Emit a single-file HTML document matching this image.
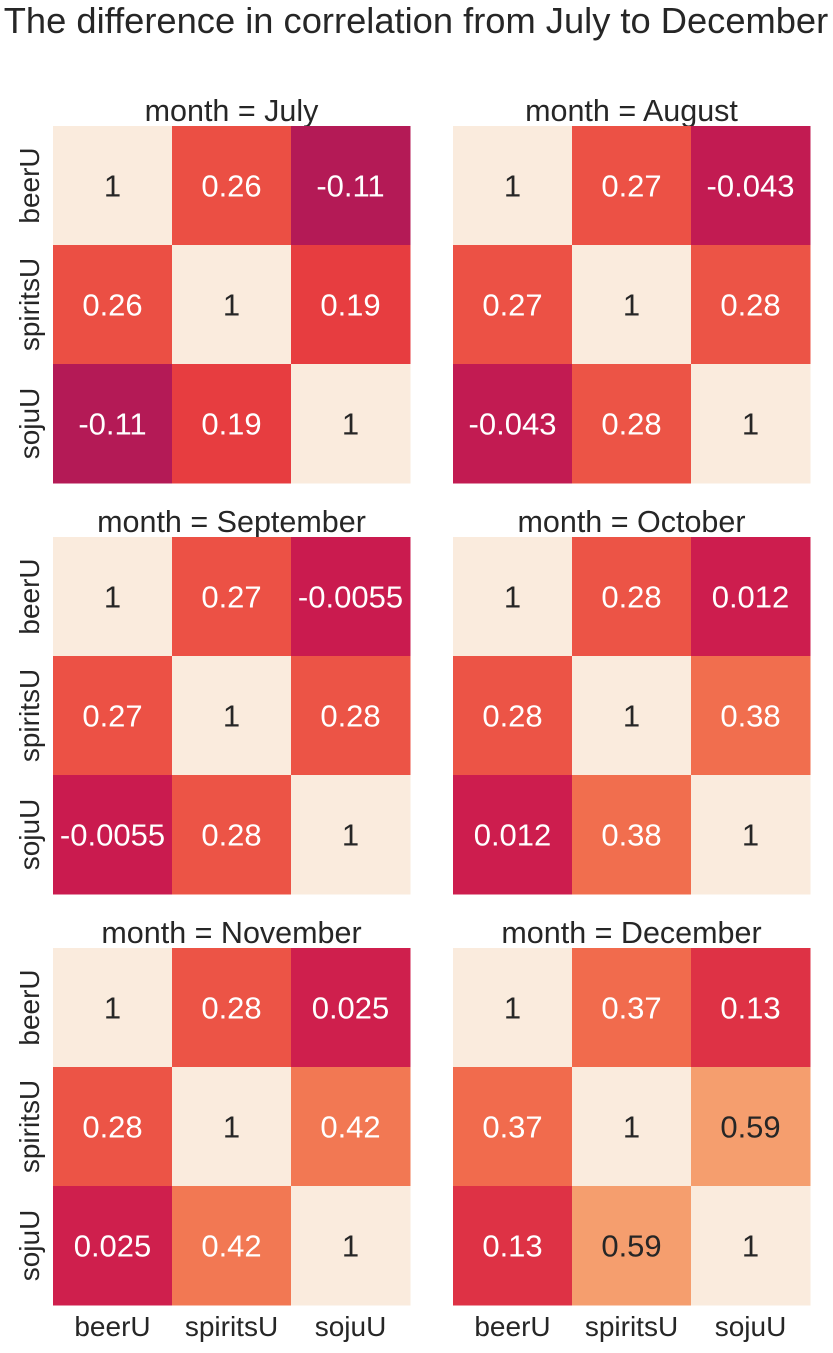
<!DOCTYPE html>
<html><head><meta charset="utf-8"><style>
body{margin:0;background:#fff;font-family:"Liberation Sans",sans-serif;}
</style></head><body>
<svg id="c" width="833" height="1348" xmlns="http://www.w3.org/2000/svg" font-family="Liberation Sans, sans-serif">
<text x="416" y="33" text-anchor="middle" font-size="36.3" fill="#262626">The difference in correlation from July to December</text>
</svg>
<script>
const months=["July","August","September","October","November","December"];
const labels=["beerU","spiritsU","sojuU"];
const v1=[0.26,0.27,0.27,0.28,0.28,0.37];
const v2=[-0.11,-0.043,-0.0055,0.012,0.025,0.13];
const v3=[0.19,0.28,0.28,0.38,0.42,0.59];
const stops=[[0,"#03051a"],[0.1,"#221331"],[0.2,"#451c47"],[0.3,"#6a1f56"],[0.4,"#a11a5b"],[0.5,"#cb1b4f"],[0.6,"#e83f3f"],[0.7,"#f27350"],[0.8,"#f5a070"],[0.9,"#f6c8aa"],[1,"#faebdd"]];
function hex(h){return [1,3,5].map(i=>parseInt(h.substr(i,2),16));}
function cmap(v){let t=(v+1)/2;t=Math.max(0,Math.min(1,t));
for(let i=0;i<stops.length-1;i++){if(t<=stops[i+1][0]){const a=hex(stops[i][1]),b=hex(stops[i+1][1]);const f=(t-stops[i][0])/(stops[i+1][0]-stops[i][0]);return a.map((x,k)=>Math.round(x+(b[k]-x)*f));}}
return hex(stops[stops.length-1][1]);}
const svg=document.getElementById('c');const NS="http://www.w3.org/2000/svg";
function el(t,a){const e=document.createElementNS(NS,t);for(const k in a)e.setAttribute(k,a[k]);svg.appendChild(e);return e;}
const px=[53,453],py=[126,537,948],cw=119,ch=119;
months.forEach((m,i)=>{
 const x0=px[i%2],y0=py[Math.floor(i/2)];
 const M=[[1,v1[i],v2[i]],[v1[i],1,v3[i]],[v2[i],v3[i],1]];
 const t=el('text',{x:x0+cw*1.5,y:y0-5,'text-anchor':'middle','font-size':30.5,fill:'#262626'});
 t.textContent="month = "+m;
 
 
 for(let r=0;r<3;r++)for(let c=0;c<3;c++){
  const col=cmap(M[r][c]);
  const rc=el('rect',{x:x0+c*cw,y:y0+r*ch,width:cw+0.5,height:ch+0.5,fill:`rgb(${col})`});
  
  
  const lum=(0.2126*col[0]+0.7152*col[1]+0.0722*col[2])/255;
  const tx=el('text',{x:x0+c*cw+cw/2,y:y0+r*ch+ch/2+11,'text-anchor':'middle','font-size':31,fill:lum>0.62?'#262626':'#ffffff'});
  tx.textContent=String(M[r][c]);
  
  
 }
 if(i%2==0){labels.forEach((l,r)=>{
  const cy=y0+r*ch+ch/2;
  const tl=el('text',{x:0,y:0,'text-anchor':'middle','font-size':28,fill:'#262626',transform:`translate(39,${cy}) rotate(-90)`});
  tl.textContent=l;
  
  
 });}
 if(i>=4){labels.forEach((l,c)=>{
  const tl=el('text',{x:x0+c*cw+cw/2,y:1336,'text-anchor':'middle','font-size':28,fill:'#262626'});
  tl.textContent=l;
  
  
 });}
});
</script>
</body></html>
